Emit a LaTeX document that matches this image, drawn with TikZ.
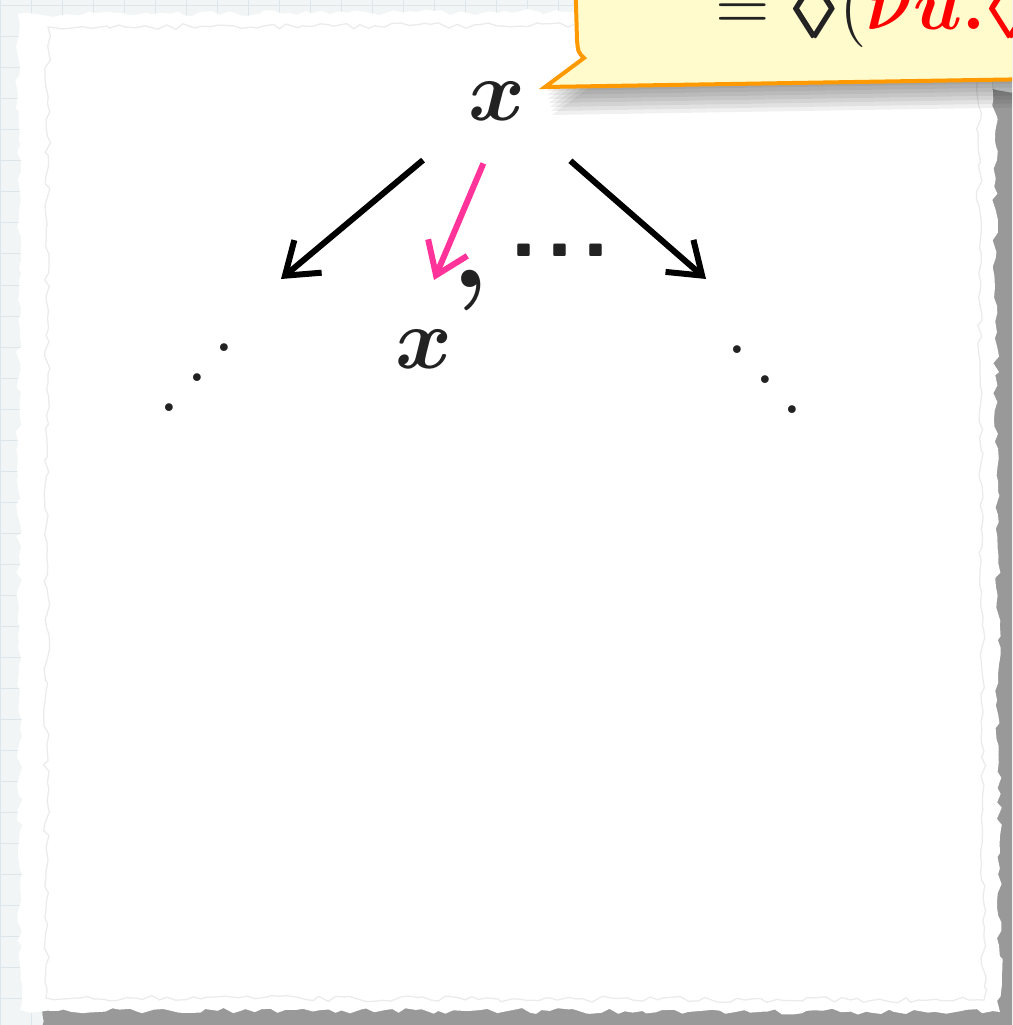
\documentclass[tikz,border=0pt]{standalone}
\usepackage{amssymb,bm}
\usetikzlibrary{arrows.meta,decorations.pathmorphing}
\definecolor{ink}{HTML}{222222}
\definecolor{hotpink}{HTML}{FF3399}
\definecolor{notefill}{HTML}{FFFBCC}
\definecolor{noteedge}{HTML}{FF9900}
\definecolor{deskbg}{HTML}{F1F5F6}
\definecolor{deskgrid}{HTML}{DDE7EB}
\newcommand{\dndots}{\raisebox{12pt}{.}\kern0.7pt\raisebox{6pt}{.}\kern0.7pt.}
\newcommand{\updots}{.\kern0.7pt\raisebox{6pt}{.}\kern0.7pt\raisebox{12pt}{.}}

\begin{document}
\begin{tikzpicture}[x=0.2pt,y=-0.2pt,
  every node/.style={text=ink},
  term/.style={font=\fontsize{19}{22}\selectfont,inner sep=2pt},
  dotrow/.style={font=\fontsize{19}{22}\selectfont,inner sep=0pt},
  edge/.style={draw=black,line width=1.2pt,-{Straight Barb[length=6pt,width=8.5pt]},shorten <=9pt},
  pick/.style={edge,draw=hotpink,shorten <=7pt},
  torn/.style={decorate,decoration={random steps,segment length=1.6pt,amplitude=0.6pt}},
  note/.style={fill=notefill,draw=noteedge,line width=0.8pt,line join=miter},
]
\pgfmathsetseed{42}
\useasboundingbox (0,0) rectangle (1012,1025);
\clip (0,0) rectangle (1012,1025);

% ---- desk with grid
\fill[deskbg] (0,0) rectangle (1012,1025);
\foreach \g in {0,31,...,1012} \draw[deskgrid,line width=0.2pt] (\g,0) -- (\g,1025);
\foreach \g in {6,37,...,1025} \draw[deskgrid,line width=0.2pt] (0,\g) -- (1012,\g);

% ---- sheet of paper
\fill[black!40,torn] (45,90) -- (1030,90) -- (1030,1045) -- (45,1045) -- cycle;
\fill[white,torn] (18,14) -- (994,10) -- (1000,1012) -- (20,1010) -- cycle;
\draw[black!8,line width=0.25pt,torn] (48,27) -- (978,24) -- (984,1000) -- (46,998) -- cycle;

% ---- callout (cut by the frame)
\foreach \k in {1,...,7}
  \fill[black,opacity=0.06,shift={(\k,4*\k)}]
    (575,-30) -- (577,40) .. controls (578,52) .. (584,58) -- (545,87) -- (1040,79) -- (1040,-30) -- cycle;
\draw[note] (575,-30) -- (577,40) .. controls (578,52) .. (584,58) -- (545,87) -- (1040,79) -- (1040,-30) -- cycle;
\node[anchor=base west,inner sep=0pt,font=\fontsize{14}{16}\selectfont] (defn) at (714,30)
  {$\triangleq\bm{\Diamond}(\textcolor{red}{\bm{\nu u.}\bm{\Diamond}}$};

% ---- states
\node[term] (x) at (497,101) {$\bm{x}$};
\node[term,anchor=base west] (xp) at (384,368) {$\bm{x}$\raisebox{3pt}{\fontsize{24}{28}\selectfont\bfseries '}};
\node[dotrow] (more) at (560,250) {\sffamily\bfseries .\kern1.4pt.\kern1.4pt.};
\node[dotrow] (lft) at (197,378) {\updots};
\node[dotrow] (rgt) at (765,380) {\dndots};

% ---- transitions
\coordinate (lend) at (281,279);
\coordinate (pend) at (434,280);
\coordinate (rend) at (706,279);
\draw[edge] (x.south west) -- (lend);
\draw[pick] (x.south) -- (pend);
\draw[edge] (x.south east) -- (rend);

\end{tikzpicture}
\end{document}
